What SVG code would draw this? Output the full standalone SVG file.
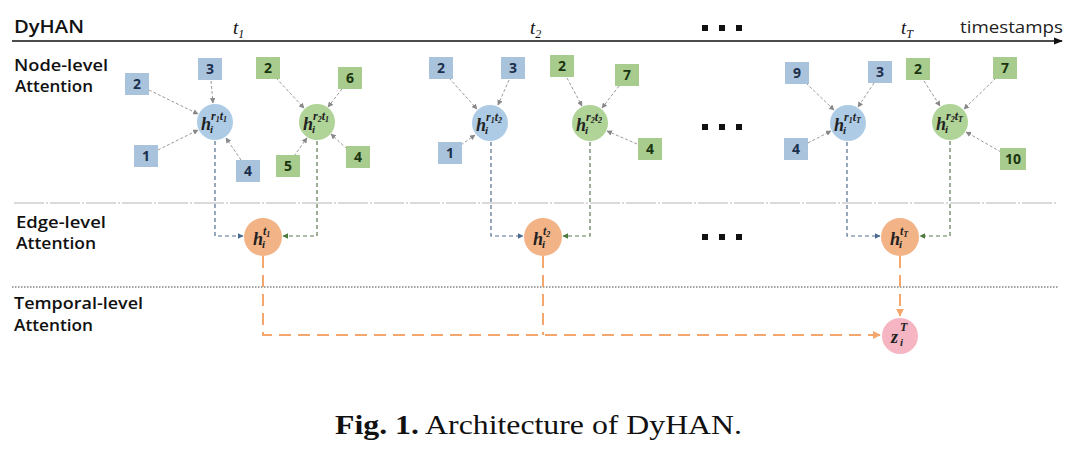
<svg xmlns="http://www.w3.org/2000/svg" width="1080" height="454" viewBox="0 0 1080 454">
<style>
.lbl{font-family:"Open Sans","Liberation Sans",sans-serif;font-weight:600;font-size:16px;fill:#111}
.sqb{fill:#a9c3dc}
.sqg{fill:#a8cc8e}
.nb{font-family:"Open Sans","Liberation Sans",sans-serif;font-weight:700;font-size:14px;fill:#1c2f4c;text-anchor:middle}
.ng{font-family:"Open Sans","Liberation Sans",sans-serif;font-weight:700;font-size:14px;fill:#1b3510;text-anchor:middle}
.cb{fill:#aecbe6}
.cg{fill:#b0d497}
.co{fill:#f2b387}
.cp{fill:#f5b5c3}
.m{font-family:"Liberation Serif","DejaVu Serif",serif;font-style:italic;font-weight:bold;fill:#222}
.mh{font-size:18px}
.ms{font-size:12px}
.mi{font-size:11px}
.t{font-family:"Liberation Serif","DejaVu Serif",serif;font-style:italic;fill:#111}
.in{stroke:#9a9a9a;stroke-width:1;stroke-dasharray:3,2;fill:none}
.vb{stroke:#556f90;stroke-width:1.2;stroke-dasharray:4,3;fill:none}
.vg{stroke:#5d7a52;stroke-width:1.2;stroke-dasharray:4,3;fill:none}
.or{stroke:#f4a76c;stroke-width:2;stroke-dasharray:12,7;fill:none}
.dot{fill:#111}
</style>
<defs>
<marker id="ag" viewBox="0 0 10 10" refX="9" refY="5" markerWidth="5.5" markerHeight="5.5" orient="auto"><path d="M0,0L10,5L0,10z" fill="#888"/></marker>
<marker id="ab" viewBox="0 0 10 10" refX="9" refY="5" markerWidth="5" markerHeight="5" orient="auto"><path d="M0,0L10,5L0,10z" fill="#4a6a90"/></marker>
<marker id="agr" viewBox="0 0 10 10" refX="9" refY="5" markerWidth="5" markerHeight="5" orient="auto"><path d="M0,0L10,5L0,10z" fill="#4e7a40"/></marker>
<marker id="ao" viewBox="0 0 10 10" refX="9" refY="5" markerWidth="4" markerHeight="4" orient="auto"><path d="M0,0L10,5L0,10z" fill="#f4a76c"/></marker>
<marker id="ak" viewBox="0 0 10 10" refX="9" refY="5" markerWidth="6" markerHeight="6" orient="auto"><path d="M0,1L10,5L0,9z" fill="#111"/></marker>
</defs>
<rect width="1080" height="454" fill="#fff"/>

<g id="header">
<text x="14" y="33" font-family="Open Sans, Liberation Sans, sans-serif" font-weight="600" font-size="18" fill="#111" textLength="70" lengthAdjust="spacingAndGlyphs">DyHAN</text>
<line x1="12" y1="41" x2="1062" y2="41" stroke="#111" stroke-width="1.5" marker-end="url(#ak)"/>
<text x="233" y="34" class="t" font-size="19">t<tspan font-size="12" dy="4">1</tspan></text>
<text x="530" y="34" class="t" font-size="19">t<tspan font-size="12" dy="4">2</tspan></text>
<text x="901" y="34" class="t" font-size="19">t<tspan font-size="12" dy="4">T</tspan></text>
<text x="960" y="33" font-family="Open Sans, Liberation Sans, sans-serif" font-size="17" fill="#222" textLength="103" lengthAdjust="spacingAndGlyphs">timestamps</text>
<rect class="dot" x="702" y="25" width="6" height="6"/><rect class="dot" x="719" y="25" width="6" height="6"/><rect class="dot" x="736" y="25" width="6" height="6"/>
</g>

<g id="labels">
<text class="lbl" x="14" y="71" textLength="94" lengthAdjust="spacingAndGlyphs">Node-level</text>
<text class="lbl" x="15" y="92" textLength="78" lengthAdjust="spacingAndGlyphs">Attention</text>
<text class="lbl" x="16" y="228" textLength="90" lengthAdjust="spacingAndGlyphs">Edge-level</text>
<text class="lbl" x="16" y="249" textLength="80" lengthAdjust="spacingAndGlyphs">Attention</text>
<text class="lbl" x="14" y="309" textLength="129" lengthAdjust="spacingAndGlyphs">Temporal-level</text>
<text class="lbl" x="14" y="331" textLength="79" lengthAdjust="spacingAndGlyphs">Attention</text>
</g>

<g id="separators">
<line x1="14" y1="203" x2="1058" y2="203" stroke="#b5b5b5" stroke-width="1" stroke-dasharray="30,2,2,2"/>
<line x1="12" y1="287" x2="1058" y2="287" stroke="#444" stroke-width="1" stroke-dasharray="1.5,1.5"/>
</g>

<g id="connectors">
<line class="in" x1="149" y1="90" x2="198" y2="114" marker-end="url(#ag)"/>
<line class="in" x1="211" y1="81" x2="213" y2="103" marker-end="url(#ag)"/>
<line class="in" x1="158" y1="150" x2="198" y2="130" marker-end="url(#ag)"/>
<line class="in" x1="241" y1="160" x2="226" y2="138" marker-end="url(#ag)"/>
<line class="in" x1="276" y1="78" x2="304" y2="108" marker-end="url(#ag)"/>
<line class="in" x1="342" y1="89" x2="328" y2="107" marker-end="url(#ag)"/>
<line class="in" x1="294" y1="156" x2="307" y2="138" marker-end="url(#ag)"/>
<line class="in" x1="347" y1="149" x2="331" y2="134" marker-end="url(#ag)"/>
<line class="in" x1="449" y1="78" x2="477" y2="109" marker-end="url(#ag)"/>
<line class="in" x1="509" y1="80" x2="498" y2="105" marker-end="url(#ag)"/>
<line class="in" x1="461" y1="145" x2="475" y2="135" marker-end="url(#ag)"/>
<line class="in" x1="567" y1="78" x2="582" y2="106" marker-end="url(#ag)"/>
<line class="in" x1="619" y1="86" x2="602" y2="108" marker-end="url(#ag)"/>
<line class="in" x1="637" y1="144" x2="607" y2="131" marker-end="url(#ag)"/>
<line class="in" x1="806" y1="83" x2="834" y2="110" marker-end="url(#ag)"/>
<line class="in" x1="874" y1="83" x2="858" y2="107" marker-end="url(#ag)"/>
<line class="in" x1="808" y1="143" x2="831" y2="131" marker-end="url(#ag)"/>
<line class="in" x1="924" y1="81" x2="940" y2="106" marker-end="url(#ag)"/>
<line class="in" x1="996" y1="78" x2="964" y2="109" marker-end="url(#ag)"/>
<line class="in" x1="1001" y1="152" x2="966" y2="132" marker-end="url(#ag)"/>
<path class="vb" d="M215,141V236H243" marker-end="url(#ab)"/>
<path class="vg" d="M317,141V236H283" marker-end="url(#agr)"/>
<path class="vb" d="M491,142V236H523" marker-end="url(#ab)"/>
<path class="vg" d="M590,142V236H563" marker-end="url(#agr)"/>
<path class="vb" d="M847,142V236H880" marker-end="url(#ab)"/>
<path class="vg" d="M950,141V236H920" marker-end="url(#agr)"/>
<path class="or" d="M263,256V335H880" marker-end="url(#ao)"/>
<path class="or" d="M543,256V335"/>
<path class="or" d="M900,256V316" stroke-dasharray="8,6" marker-end="url(#ao)"/>
</g>

<g id="ellipsis">
<rect class="dot" x="702" y="124" width="6" height="6"/><rect class="dot" x="719" y="124" width="6" height="6"/><rect class="dot" x="736" y="124" width="6" height="6"/>
<rect class="dot" x="702" y="234" width="6" height="6"/><rect class="dot" x="719" y="234" width="6" height="6"/><rect class="dot" x="736" y="234" width="6" height="6"/>
</g>

<g id="b1-2"><rect class="sqb" x="125" y="73" width="24" height="22"/><text class="nb" x="137" y="89">2</text></g>
<g id="b1-3"><rect class="sqb" x="198" y="58" width="24" height="22"/><text class="nb" x="210" y="74">3</text></g>
<g id="b1-1"><rect class="sqb" x="134" y="145" width="24" height="22"/><text class="nb" x="146" y="161">1</text></g>
<g id="b1-4"><rect class="sqb" x="236" y="160" width="24" height="22"/><text class="nb" x="248" y="176">4</text></g>
<g id="hr1t1"><circle class="cb" cx="215" cy="122" r="18"/><text class="m mh" x="201" y="130">h</text><text class="m ms" x="211" y="120">r<tspan font-size="8" dy="2">1</tspan><tspan dy="-2">t</tspan><tspan font-size="8" dy="2">1</tspan></text><text class="m mi" x="210" y="133">i</text></g>
<g id="g1-2"><rect class="sqg" x="256" y="57" width="24" height="22"/><text class="ng" x="268" y="73">2</text></g>
<g id="g1-6"><rect class="sqg" x="338" y="67" width="24" height="22"/><text class="ng" x="350" y="83">6</text></g>
<g id="g1-5"><rect class="sqg" x="276" y="155" width="24" height="22"/><text class="ng" x="288" y="171">5</text></g>
<g id="g1-4"><rect class="sqg" x="346" y="146" width="24" height="22"/><text class="ng" x="358" y="162">4</text></g>
<g id="hr2t1"><circle class="cg" cx="317" cy="122" r="18"/><text class="m mh" x="303" y="130">h</text><text class="m ms" x="313" y="120">r<tspan font-size="8" dy="2">2</tspan><tspan dy="-2">t</tspan><tspan font-size="8" dy="2">1</tspan></text><text class="m mi" x="312" y="133">i</text></g>

<g id="b2-2"><rect class="sqb" x="429" y="57" width="24" height="22"/><text class="nb" x="441" y="73">2</text></g>
<g id="b2-3"><rect class="sqb" x="501" y="57" width="24" height="22"/><text class="nb" x="513" y="73">3</text></g>
<g id="b2-1"><rect class="sqb" x="438" y="142" width="24" height="22"/><text class="nb" x="450" y="158">1</text></g>
<g id="hr1t2"><circle class="cb" cx="490" cy="123" r="18"/><text class="m mh" x="476" y="131">h</text><text class="m ms" x="486" y="121">r<tspan font-size="8" dy="2">1</tspan><tspan dy="-2">t</tspan><tspan font-size="8" dy="2">2</tspan></text><text class="m mi" x="485" y="134">i</text></g>
<g id="g2-2"><rect class="sqg" x="550" y="55" width="24" height="22"/><text class="ng" x="562" y="71">2</text></g>
<g id="g2-7"><rect class="sqg" x="615" y="64" width="24" height="22"/><text class="ng" x="627" y="80">7</text></g>
<g id="g2-4"><rect class="sqg" x="638" y="138" width="24" height="22"/><text class="ng" x="650" y="154">4</text></g>
<g id="hr2t2"><circle class="cg" cx="590" cy="123" r="18"/><text class="m mh" x="576" y="131">h</text><text class="m ms" x="586" y="121">r<tspan font-size="8" dy="2">2</tspan><tspan dy="-2">t</tspan><tspan font-size="8" dy="2">2</tspan></text><text class="m mi" x="585" y="134">i</text></g>

<g id="bT-9"><rect class="sqb" x="785" y="62" width="24" height="22"/><text class="nb" x="797" y="78">9</text></g>
<g id="bT-3"><rect class="sqb" x="868" y="61" width="24" height="22"/><text class="nb" x="880" y="77">3</text></g>
<g id="bT-4"><rect class="sqb" x="784" y="138" width="24" height="22"/><text class="nb" x="796" y="154">4</text></g>
<g id="hr1tT"><circle class="cb" cx="848" cy="123" r="18"/><text class="m mh" x="834" y="131">h</text><text class="m ms" x="844" y="121">r<tspan font-size="8" dy="2">1</tspan><tspan dy="-2">t</tspan><tspan font-size="8" dy="2">T</tspan></text><text class="m mi" x="843" y="134">i</text></g>
<g id="gT-2"><rect class="sqg" x="906" y="58" width="24" height="22"/><text class="ng" x="918" y="74">2</text></g>
<g id="gT-7"><rect class="sqg" x="993" y="57" width="24" height="22"/><text class="ng" x="1005" y="73">7</text></g>
<g id="gT-10"><rect class="sqg" x="1000" y="148" width="26" height="22"/><text class="ng" x="1013" y="164">10</text></g>
<g id="hr2tT"><circle class="cg" cx="950" cy="122" r="18"/><text class="m mh" x="936" y="130">h</text><text class="m ms" x="946" y="120">r<tspan font-size="8" dy="2">2</tspan><tspan dy="-2">t</tspan><tspan font-size="8" dy="2">T</tspan></text><text class="m mi" x="945" y="133">i</text></g>

<g id="ht1"><circle class="co" cx="263" cy="237" r="19"/><text class="m mh" x="253" y="245">h</text><text class="m ms" x="263" y="235">t<tspan font-size="8" dy="2">1</tspan></text><text class="m mi" x="262" y="248">i</text></g>
<g id="ht2"><circle class="co" cx="543" cy="237" r="19"/><text class="m mh" x="533" y="245">h</text><text class="m ms" x="543" y="235">t<tspan font-size="8" dy="2">2</tspan></text><text class="m mi" x="542" y="248">i</text></g>
<g id="htT"><circle class="co" cx="900" cy="237" r="19"/><text class="m mh" x="890" y="245">h</text><text class="m ms" x="900" y="235">t<tspan font-size="8" dy="2">T</tspan></text><text class="m mi" x="899" y="248">i</text></g>

<g id="zT"><circle class="cp" cx="900" cy="336" r="18"/><text class="m mh" x="891" y="343">z</text><text class="m ms" x="900" y="331">T</text><text class="m mi" x="900" y="346">i</text></g>

<g id="caption">
<text x="335" y="434" font-family="Liberation Serif, DejaVu Serif, serif" font-size="28" fill="#111" textLength="407" lengthAdjust="spacingAndGlyphs"><tspan font-weight="bold">Fig. 1.</tspan> Architecture of DyHAN.</text>
</g>
</svg>
